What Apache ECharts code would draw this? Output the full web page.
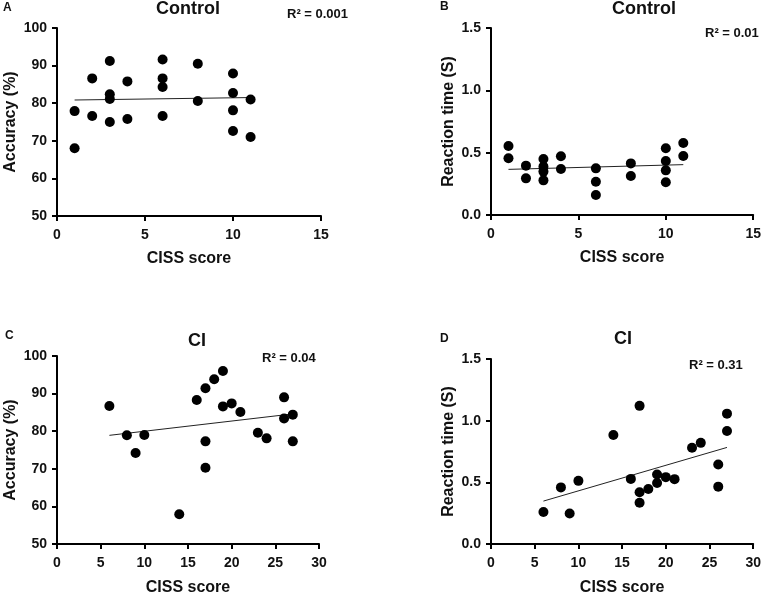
<!DOCTYPE html>
<html>
<head>
<meta charset="utf-8">
<script src="https://cdn.jsdelivr.net/npm/echarts@6/dist/echarts.min.js"></script>
<style>
  html, body { margin: 0; padding: 0; background: #fff; }
  #chart { width: 764px; height: 597px; }
</style>
</head>
<body>
<div id="chart"></div>
<script>
// Panel A: control, accuracy vs CISS
const ctrlAccX = [1, 1, 2, 2, 3, 3, 3, 3, 4, 4, 6, 6, 6, 6, 8, 8, 10, 10, 10, 10, 11, 11];
const ctrlAccY = [77.9, 68.0, 86.6, 76.6, 91.2, 82.4, 81.1, 75.0, 85.8, 75.8, 91.6, 86.6, 84.3, 76.6, 90.5, 80.6, 87.9, 82.7, 78.1, 72.6, 81.0, 71.0];
const ctrlAccFitX = [1, 11];
const ctrlAccFitY = [80.85, 81.5];

// Panel B: control, reaction time vs CISS
const ctrlRtX = [1, 1, 2, 2, 3, 3, 3, 3, 4, 4, 6, 6, 6, 8, 8, 10, 10, 10, 10, 11, 11];
const ctrlRtY = [0.553, 0.455, 0.396, 0.294, 0.449, 0.388, 0.348, 0.278, 0.471, 0.369, 0.374, 0.267, 0.160, 0.414, 0.313, 0.535, 0.433, 0.358, 0.262, 0.578, 0.473];
const ctrlRtFitX = [1, 11];
const ctrlRtFitY = [0.366, 0.404];

// Panel C: CI, accuracy vs CISS
const ciAccX = [6, 8, 9, 10, 14, 16, 17, 17, 17, 18, 19, 19, 20, 21, 23, 24, 26, 26, 27, 27];
const ciAccY = [86.7, 78.9, 74.2, 79.0, 57.9, 88.3, 91.4, 77.3, 70.3, 93.8, 96.0, 86.6, 87.4, 85.1, 79.6, 78.1, 89.0, 83.4, 84.4, 77.3];
const ciAccFitX = [6, 27];
const ciAccFitY = [78.9, 84.6];

// Panel D: CI, reaction time vs CISS
const ciRtX = [6, 8, 9, 10, 14, 16, 17, 17, 17, 18, 19, 19, 20, 21, 23, 24, 26, 26, 27, 27];
const ciRtY = [0.260, 0.459, 0.247, 0.512, 0.884, 0.528, 1.120, 0.419, 0.335, 0.446, 0.563, 0.494, 0.542, 0.526, 0.781, 0.820, 0.645, 0.465, 1.057, 0.916];
const ciRtFitX = [6, 27];
const ciRtFitY = [0.348, 0.783];

const panelTitles = ['Control', 'Control', 'CI', 'CI'];
const panelLetters = ['A', 'B', 'C', 'D'];
const r2Labels = ['R\u00b2 = 0.001', 'R\u00b2 = 0.01', 'R\u00b2 = 0.04', 'R\u00b2 = 0.31'];
const yNames = ['Accuracy (%)', 'Reaction time (S)', 'Accuracy (%)', 'Reaction time (S)'];

const FONT = 'Liberation Sans, Arial, sans-serif';
const zip = (xs, ys) => xs.map((x, i) => [x, ys[i]]);

const grids = [
  { left: 57, top: 28, width: 264, height: 188 },
  { left: 491, top: 28, width: 263, height: 187 },
  { left: 57, top: 356, width: 262, height: 188 },
  { left: 491, top: 359, width: 264, height: 189 }
];

const axisCommon = {
  axisLine: { show: true, lineStyle: { color: '#000', width: 2 } },
  axisTick: { show: true, length: 5, lineStyle: { color: '#000', width: 2 } },
  axisLabel: { color: '#111', fontFamily: FONT, fontWeight: 'bold', fontSize: 14 },
  splitLine: { show: false },
  nameTextStyle: { color: '#111', fontFamily: FONT, fontWeight: 'bold', fontSize: 16 }
};

const xMax = [15, 15, 30, 30];
const xInt = [5, 5, 5, 5];
const yMin = [50, 0, 50, 0];
const yMax = [100, 1.5, 100, 1.5];
const yInt = [10, 0.5, 10, 0.5];

const xAxes = grids.map((g, i) => Object.assign({}, axisCommon, {
  type: 'value', gridIndex: i, min: 0, max: xMax[i], interval: xInt[i],
  name: 'CISS score', nameLocation: 'middle', nameGap: i < 2 ? 35 : 36,
  axisLabel: Object.assign({}, axisCommon.axisLabel, { margin: 12 })
}));

const yAxes = grids.map((g, i) => Object.assign({}, axisCommon, {
  type: 'value', gridIndex: i, min: yMin[i], max: yMax[i], interval: yInt[i],
  name: yNames[i], nameLocation: 'middle', nameGap: i % 2 ? 34 : 38,
  axisLabel: Object.assign({}, axisCommon.axisLabel, {
    margin: 10,
    formatter: v => (i % 2 ? v.toFixed(1) : String(v))
  })
}));

const scatterSets = [zip(ctrlAccX, ctrlAccY), zip(ctrlRtX, ctrlRtY), zip(ciAccX, ciAccY), zip(ciRtX, ciRtY)];
const fitSets = [zip(ctrlAccFitX, ctrlAccFitY), zip(ctrlRtFitX, ctrlRtFitY), zip(ciAccFitX, ciAccFitY), zip(ciRtFitX, ciRtFitY)];

const series = [];
scatterSets.forEach((d, i) => {
  series.push({
    type: 'line', xAxisIndex: i, yAxisIndex: i, data: fitSets[i],
    symbol: 'none', silent: true, z: 1,
    lineStyle: { color: '#222', width: 1 }
  });
  series.push({
    type: 'scatter', xAxisIndex: i, yAxisIndex: i, data: d,
    symbolSize: 10, z: 2,
    itemStyle: { color: '#000', opacity: 1 }
  });
});

// title positions (centre x, top y)
const titlePos = [[188, 0], [644, 0], [197, 332], [623, 330]];
const letterPos = [[3, 2], [440, 1], [5, 330], [440, 333]];
const r2Pos = [[287, 8], [705, 27], [262, 352], [689, 359]];

const titles = [];
panelTitles.forEach((t, i) => {
  titles.push({
    text: t, left: titlePos[i][0], top: titlePos[i][1], textAlign: 'center', padding: 0,
    textStyle: { fontFamily: FONT, fontWeight: 'bold', fontSize: 18, color: '#111' }
  });
  titles.push({
    text: panelLetters[i], left: letterPos[i][0], top: letterPos[i][1], padding: 0,
    textStyle: { fontFamily: FONT, fontWeight: 'bold', fontSize: 12, color: '#111' }
  });
  titles.push({
    text: r2Labels[i], left: r2Pos[i][0], top: r2Pos[i][1], padding: 0,
    textStyle: { fontFamily: FONT, fontWeight: 'bold', fontSize: 13, color: '#111' }
  });
});

const chart = echarts.init(document.getElementById('chart'), null, { renderer: 'canvas' });
chart.setOption({
  animation: false,
  backgroundColor: '#fff',
  title: titles,
  grid: grids,
  xAxis: xAxes,
  yAxis: yAxes,
  series: series
});
</script>
</body>
</html>
